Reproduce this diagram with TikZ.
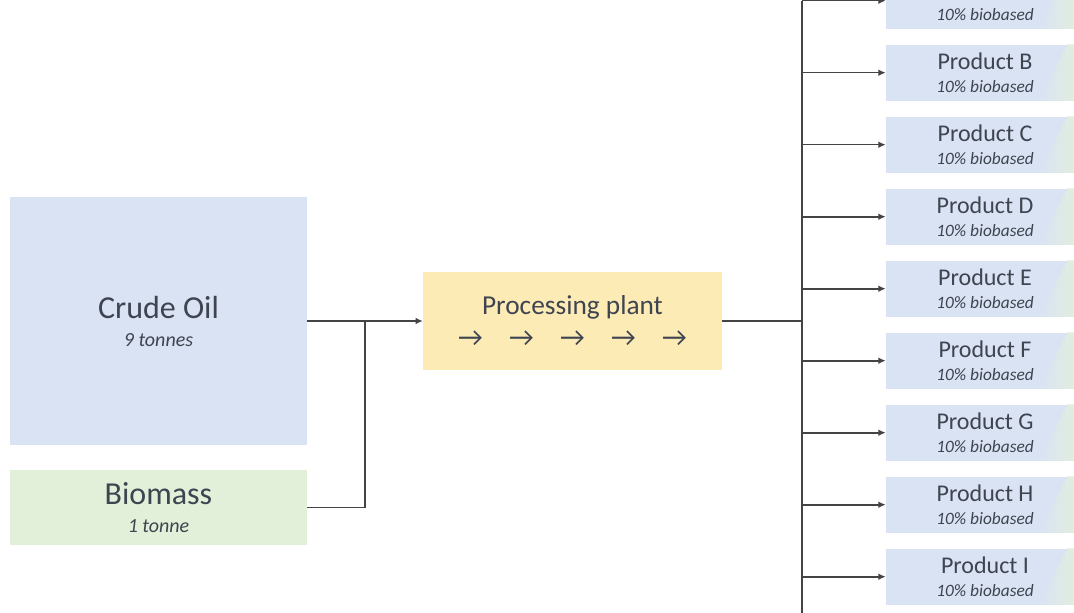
\documentclass[tikz,border=0pt]{standalone}
\usepackage{fontspec}
\setmainfont{Carlito}
\usetikzlibrary{positioning,arrows.meta,calc}
\definecolor{oilblue}{HTML}{DAE3F3}
\definecolor{biogreen}{HTML}{E2F0D9}
\definecolor{plantyellow}{HTML}{FDEBB5}
\definecolor{inkgray}{HTML}{3E4450}
\definecolor{linegray}{HTML}{444444}
\newcommand{\feedname}[1]{{\fontsize{24}{24}\selectfont #1}}
\newcommand{\prodname}[1]{{\fontsize{18}{18}\selectfont #1}}
\newcommand{\flowarr}{\makebox[38.25pt]{→}}

\begin{document}
\begin{tikzpicture}[>={Latex[length=5.5pt,width=5pt]},x=0.75pt,y=-0.75pt]
\tikzstyle{box}=[inner sep=0pt,align=center,text=inkgray]
\tikzstyle{feed}=[box,minimum width=223pt,font=\fontsize{15}{21}\selectfont]
\tikzstyle{prod}=[box,fill=oilblue,minimum width=148.5pt,minimum height=42pt,font=\fontsize{13}{17.3}\selectfont]
\tikzstyle{link}=[draw=linegray,line width=1.2pt]
\useasboundingbox (0,0) rectangle (1074,613);
\clip (0,0) rectangle (1074,613);
\node[feed,fill=oilblue,minimum height=186pt] (oil) at (158.5,321) {\feedname{Crude Oil}\\\textit{9 tonnes}};
\node[feed,fill=biogreen,minimum height=56pt] (bio) at (158.5,507.5) {\feedname{Biomass}\\\textit{1 tonne}};
\node[box,fill=plantyellow,minimum width=224pt,minimum height=73.5pt,font=\fontsize{20.5}{24}\selectfont] (plant) at (572.5,321) {Processing plant\\\flowarr\flowarr\flowarr\flowarr\flowarr};
\coordinate (join) at (365,321);
\coordinate (bus) at (802,321);
\coordinate (busend) at (802,625);
\foreach \p [count=\i from 0] in {A,B,C,D,E,F,G,H,I} {
  \node[prod] (\p) at (985,0.7+72*\i) {\prodname{Product \p}\\\textit{10\% biobased}};
  \shade[left color=oilblue,right color=biogreen] ($(\p.south east)+(-44,0)$) -- (\p.south east) -- (\p.north east) -- ($(\p.north east)+(-17,0)$) -- cycle;
  \draw[link,->] (\p.west -| bus) -- (\p.west);
}
\draw[link,->] (oil.east) -- (plant.west);
\draw[link] (bio.east) -| (join);
\draw[link] (plant.east) -- (bus);
\draw[link] (A.west -| bus) -- (busend);
\end{tikzpicture}
\end{document}
